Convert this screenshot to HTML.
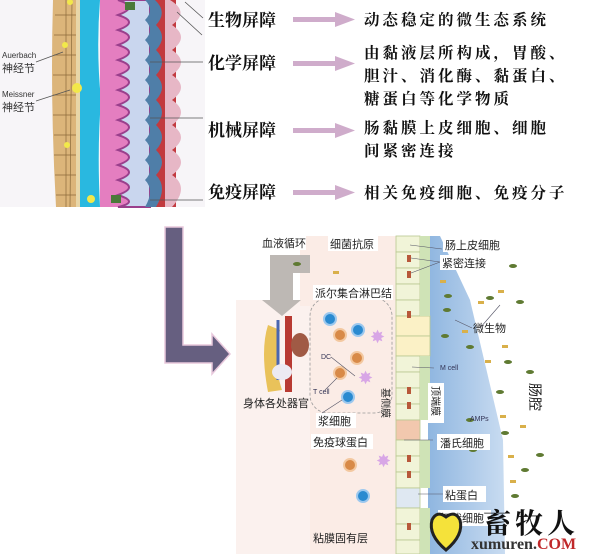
<!DOCTYPE html>
<html><head><meta charset="utf-8"><style>
html,body{margin:0;padding:0;background:#fff;width:600px;height:554px;overflow:hidden}
svg{display:block}
.t{font-family:"Liberation Sans","Noto Sans CJK SC",sans-serif}
.k{font-family:"Noto Serif CJK SC","Noto Sans CJK SC",serif;font-weight:bold}
</style></head><body>
<svg width="600" height="554" viewBox="0 0 600 554" xmlns="http://www.w3.org/2000/svg">
<defs>
<linearGradient id="lum" x1="0" x2="1" y1="0" y2="0"><stop offset="0" stop-color="#8fb6e0"/><stop offset="1" stop-color="#c9dcf1"/></linearGradient>
</defs>
<!-- intestine panel -->
<rect x="0" y="0" width="205" height="207" fill="#f7f5f8"/>
<path d="M53 0 L80 0 L80 207 L56 207 Q50 100 53 0Z" fill="#dcb57a"/>
<g stroke="#8a6a3a" stroke-width="0.7" fill="none">
<path d="M55 15 H78 M54 35 H78 M54 55 H78 M53 75 H78 M53 95 H78 M53 115 H78 M54 135 H78 M54 155 H78 M55 175 H78 M56 195 H78"/>
<path d="M66 0 V207 M72 0 L70 207"/>
</g>
<rect x="76" y="0" width="5" height="207" fill="#e8d6a8"/>
<path d="M80 0 H100 Q96 50 101 100 Q97 150 100 207 H80Z" fill="#29b8e0"/>
<rect x="100" y="0" width="30" height="207" fill="#e47ec0"/>
<path d="M118 0 Q140 7 118 15 Q140 22 118 30 Q140 37 118 45 Q140 52 118 60 Q140 67 118 75 Q140 82 118 90 Q140 97 118 105 Q140 112 118 120 Q140 127 118 135 Q140 142 118 150 Q140 157 118 165 Q140 172 118 180 Q140 187 118 195 Q140 202 118 207 L150 207 L150 0Z" fill="#c9d6ee" stroke="#9a3f8c" stroke-width="2"/>
<path d="M145 0 Q155 10 145 20 Q155 30 145 40 Q155 50 145 60 Q155 70 145 80 Q155 90 145 100 Q155 110 145 120 Q155 130 145 140 Q155 150 145 160 Q155 170 145 180 Q155 190 145 207 L165 207 L165 0Z" fill="#4f7ea8"/>
<path d="M155 0 Q168 12 156 25 Q168 37 156 50 Q168 62 156 75 Q168 87 156 100 Q168 112 156 125 Q168 137 156 150 Q168 162 156 175 Q168 187 156 207 L176 207 L176 0Z" fill="#c23a3f"/>
<path d="M170 0 Q190 12 172 25 Q190 37 172 50 Q190 62 172 75 Q190 87 172 100 Q190 112 172 125 Q190 137 172 150 Q190 162 172 175 Q190 187 172 207 L165 207 L165 0Z" fill="#e7b7c6"/>
<g fill="#f2e84a"><circle cx="70" cy="2" r="3"/><circle cx="65" cy="45" r="3"/><circle cx="77" cy="88" r="5"/><circle cx="67" cy="145" r="3"/><circle cx="91" cy="199" r="4"/></g>
<path d="M125 2 h10 v8 h-10z M111 195 h10 v8 h-10z" fill="#4a7a3a"/>
<g stroke="#555" stroke-width="0.8" fill="none"><path d="M36 62 L63 52 M36 101 L70 90 M185 2 L203 18 M177 12 L202 35 M150 62 L203 62 M150 118 L203 118 M150 200 L203 200"/></g>
<text x="2" y="58" class="t" font-size="8" fill="#333">Auerbach</text>
<text x="2" y="72" class="t" font-size="11" fill="#333">神经节</text>
<text x="2" y="97" class="t" font-size="8" fill="#333">Meissner</text>
<text x="2" y="111" class="t" font-size="11" fill="#333">神经节</text>

<!-- barrier labels -->
<g class="k" font-size="17" fill="#111">
<text x="208" y="26">生物屏障</text>
<text x="208" y="69">化学屏障</text>
<text x="208" y="136">机械屏障</text>
<text x="208" y="198">免疫屏障</text>
</g>
<g fill="#cfaccb">
<rect x="293" y="17" width="44" height="5"/><path d="M335 12 L355 19.5 L335 27Z"/>
<rect x="293" y="61" width="44" height="5"/><path d="M335 56 L355 63.5 L335 71Z"/>
<rect x="293" y="128" width="44" height="5"/><path d="M335 123 L355 130.5 L335 138Z"/>
<rect x="293" y="190" width="44" height="5"/><path d="M335 185 L355 192.5 L335 200Z"/>
</g>
<g class="k" font-size="15.5" fill="#111" letter-spacing="3">
<text x="364" y="25">动态稳定的微生态系统</text>
<text x="364" y="58">由黏液层所构成，胃酸、</text>
<text x="364" y="81">胆汁、消化酶、黏蛋白、</text>
<text x="364" y="104">糖蛋白等化学物质</text>
<text x="364" y="133">肠黏膜上皮细胞、细胞</text>
<text x="364" y="156">间紧密连接</text>
<text x="364" y="198">相关免疫细胞、免疫分子</text>
</g>

<!-- L arrow -->
<path d="M165 227 H183 V345 H212 V334 L230 354 L212 374 V363 H165Z" fill="#665f80" stroke="#e8c8dc" stroke-width="1.5"/>

<!-- bottom diagram -->
<rect x="236" y="236" width="364" height="318" fill="#fff"/>
<rect x="310" y="236" width="88" height="318" fill="#fbece6"/>
<rect x="236" y="300" width="74" height="254" fill="#fbf1ee"/>
<rect x="300" y="236" width="20" height="70" fill="#fbece6"/>
<path d="M428 236 L440 236 L470 300 L503 440 L505 554 L428 554Z" fill="url(#lum)"/>
<!-- grey arrow -->
<path d="M310 255 V273 H293 V300 H301 L282 316 L262 300 L270 300 V255Z" fill="#bdb8b4"/>
<!-- organs -->
<path d="M268 325 Q260 350 268 392 L282 390 Q272 360 280 330Z" fill="#e9c25a"/>
<path d="M285 316 L285 392 L292 392 L292 316Z" fill="#b83a32"/>
<path d="M278 320 V380" stroke="#4a66b0" stroke-width="3"/>
<ellipse cx="300" cy="345" rx="9" ry="12" fill="#a05a45"/>
<ellipse cx="282" cy="372" rx="10" ry="8" fill="#eceaf2"/>
<!-- dashed PP -->
<rect x="310" y="298" width="82" height="115" rx="18" fill="none" stroke="#999" stroke-width="0.8" stroke-dasharray="3 2"/>
<!-- epithelium -->
<g stroke="#b8c890" stroke-width="0.8">
<rect x="396" y="236" width="24" height="16" fill="#f1f4d8"/><rect x="396" y="252" width="24" height="16" fill="#f1f4d8"/><rect x="396" y="268" width="24" height="16" fill="#f1f4d8"/><rect x="396" y="284" width="24" height="16" fill="#f1f4d8"/><rect x="396" y="300" width="24" height="16" fill="#f1f4d8"/>
<rect x="396" y="316" width="34" height="20" fill="#fbf1c6"/><rect x="396" y="336" width="34" height="20" fill="#fbf1c6"/>
<rect x="396" y="356" width="24" height="16" fill="#f1f4d8"/><rect x="396" y="372" width="24" height="16" fill="#f1f4d8"/><rect x="396" y="388" width="24" height="16" fill="#f1f4d8"/><rect x="396" y="404" width="24" height="16" fill="#f1f4d8"/>
<rect x="396" y="420" width="24" height="20" fill="#f2c8ae"/>
<rect x="396" y="440" width="24" height="16" fill="#f1f4d8"/><rect x="396" y="456" width="24" height="16" fill="#f1f4d8"/><rect x="396" y="472" width="24" height="16" fill="#f1f4d8"/>
<rect x="396" y="488" width="24" height="20" fill="#dfe8f2"/>
<rect x="396" y="508" width="24" height="16" fill="#f1f4d8"/><rect x="396" y="524" width="24" height="16" fill="#f1f4d8"/><rect x="396" y="540" width="24" height="14" fill="#f1f4d8"/>
</g>
<rect x="420" y="236" width="10" height="80" fill="#cfe3b6"/><rect x="420" y="356" width="10" height="64" fill="#cfe3b6"/><rect x="420" y="440" width="10" height="48" fill="#cfe3b6"/><rect x="420" y="508" width="10" height="46" fill="#cfe3b6"/>
<g fill="#b8583a"><rect x="407" y="255" width="4" height="7"/><rect x="407" y="271" width="4" height="7"/><rect x="407" y="311" width="4" height="7"/><rect x="407" y="387" width="4" height="7"/><rect x="407" y="402" width="4" height="7"/><rect x="407" y="455" width="4" height="7"/><rect x="407" y="471" width="4" height="7"/><rect x="407" y="523" width="4" height="7"/></g>
<!-- cells -->
<g fill="#2a8ad0" stroke="#9cc8ee" stroke-width="2"><circle cx="330" cy="319" r="6"/><circle cx="358" cy="330" r="6"/><circle cx="348" cy="397" r="6"/><circle cx="363" cy="496" r="6"/></g>
<g fill="#d88a48" stroke="#f3c8a0" stroke-width="2"><circle cx="340" cy="335" r="6"/><circle cx="357" cy="358" r="6"/><circle cx="340" cy="373" r="6"/><circle cx="350" cy="465" r="6"/></g>
<g fill="#d8a6e6" font-size="18" class="t"><text x="370" y="343">✸</text><text x="358" y="384">✸</text><text x="376" y="467">✸</text></g>
<!-- bacteria -->
<g fill="#5f7a32"><ellipse cx="297" cy="264" rx="4" ry="2"/><ellipse cx="513" cy="266" rx="4" ry="2"/><ellipse cx="448" cy="296" rx="4" ry="2"/><ellipse cx="490" cy="298" rx="4" ry="2"/><ellipse cx="447" cy="310" rx="4" ry="2"/><ellipse cx="520" cy="302" rx="4" ry="2"/><ellipse cx="445" cy="336" rx="4" ry="2"/><ellipse cx="470" cy="347" rx="4" ry="2"/><ellipse cx="508" cy="362" rx="4" ry="2"/><ellipse cx="530" cy="372" rx="4" ry="2"/><ellipse cx="500" cy="392" rx="4" ry="2"/><ellipse cx="505" cy="433" rx="4" ry="2"/><ellipse cx="473" cy="450" rx="4" ry="2"/><ellipse cx="525" cy="470" rx="4" ry="2"/><ellipse cx="470" cy="420" rx="4" ry="2"/><ellipse cx="515" cy="496" rx="4" ry="2"/><ellipse cx="540" cy="455" rx="4" ry="2"/></g>
<g fill="#d9b04a"><rect x="333" y="271" width="6" height="3"/><rect x="440" y="280" width="6" height="3"/><rect x="478" y="301" width="6" height="3"/><rect x="498" y="290" width="6" height="3"/><rect x="462" y="330" width="6" height="3"/><rect x="502" y="345" width="6" height="3"/><rect x="485" y="360" width="6" height="3"/><rect x="500" y="415" width="6" height="3"/><rect x="520" y="425" width="6" height="3"/><rect x="508" y="455" width="6" height="3"/><rect x="510" y="480" width="6" height="3"/></g>
<!-- labels -->
<g class="t" font-size="11" fill="#222">
<rect x="258" y="235" width="48" height="15" fill="#fff"/><text x="262" y="247">血液循环</text>
<rect x="328" y="236" width="50" height="15" fill="#fff"/><text x="330" y="248">细菌抗原</text>
<rect x="313" y="285" width="80" height="15" fill="#fff"/><text x="315" y="297">派尔集合淋巴结</text>
<rect x="443" y="237" width="62" height="15" fill="#fff"/><text x="445" y="249">肠上皮细胞</text>
<rect x="440" y="255" width="50" height="15" fill="#fff"/><text x="442" y="267">紧密连接</text>
<text x="473" y="332">微生物</text>
<text x="243" y="407">身体各处器官</text>
<rect x="316" y="413" width="40" height="15" fill="#fff"/><text x="318" y="425">浆细胞</text>
<rect x="311" y="434" width="62" height="15" fill="#fff"/><text x="313" y="446">免疫球蛋白</text>
<rect x="437" y="434" width="53" height="16" fill="#fff"/><text x="440" y="447">潘氏细胞</text>
<rect x="443" y="486" width="43" height="16" fill="#fff"/><text x="445" y="499">粘蛋白</text>
<rect x="438" y="510" width="53" height="16" fill="#fff"/><text x="440" y="522">杯状细胞</text>
<text x="313" y="542">粘膜固有层</text>
<text x="382" y="388" transform="rotate(90 382 388)" font-size="10">基侧膜</text>
<rect x="428" y="383" width="16" height="40" fill="#fff"/>
<text x="432" y="386" transform="rotate(90 432 386)" font-size="10">顶端膜</text>
<text x="530" y="383" transform="rotate(90 530 383)" font-size="14">肠腔</text>
</g>
<g class="t" font-size="7" fill="#335">
<text x="321" y="359">DC</text><text x="313" y="394">T cell</text><text x="440" y="370">M cell</text><text x="470" y="421">AMPs</text></g>
<g stroke="#556" stroke-width="0.6"><path d="M331 357 L355 376 M325 390 L337 378 M322 413 L342 400 M434 368 L412 367 M433 440 L404 440 M443 494 L418 494 M442 249 L410 245 M440 262 L411 258 M440 262 L411 273 M472 328 L455 320 M480 328 L500 305"/></g>
<!-- watermark -->
<path d="M446 550 Q428 535 432 520 Q437 510 446 517 Q455 510 460 520 Q464 535 446 550Z" fill="#f5e23a" stroke="#222" stroke-width="3"/>
<text x="483" y="533" class="k" font-size="28" fill="#111" letter-spacing="4">畜牧人</text>
<text x="471" y="549" font-family="Liberation Serif,serif" font-weight="bold" font-size="16" fill="#333">xumuren.<tspan fill="#c0282a">COM</tspan></text>
</svg>
</body></html>
